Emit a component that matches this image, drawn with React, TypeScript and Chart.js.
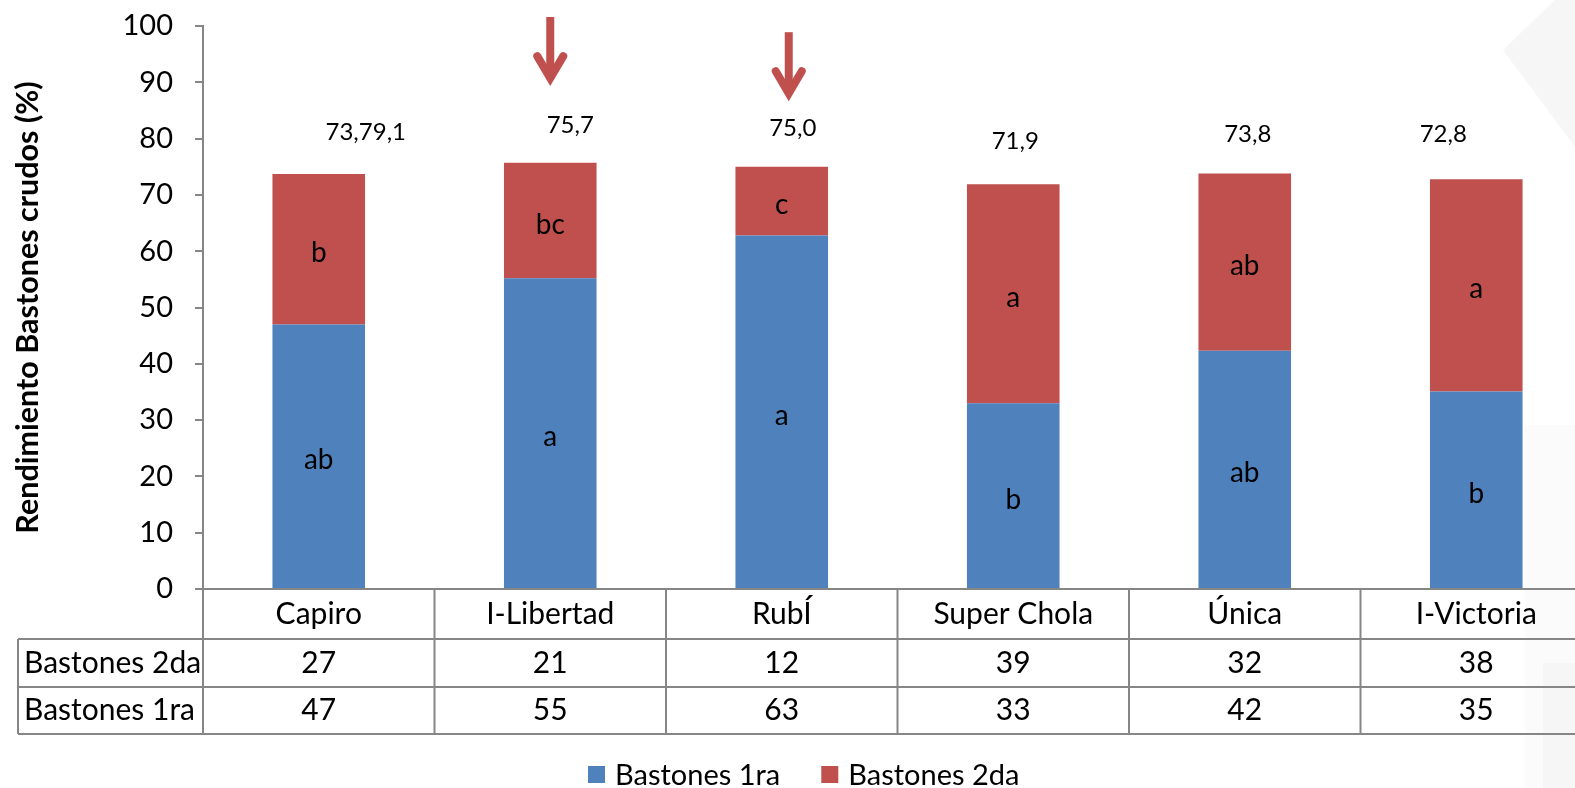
import React, { useEffect, useRef } from "react";
import { Chart, registerables } from "chart.js";

Chart.register(...registerables);

const categories = ["Capiro", "I-Libertad", "RubÍ", "Super Chola", "Única", "I-Victoria"];
const seriesNames = ["Bastones 1ra", "Bastones 2da"];
const bastones1ra = [47.0, 55.2, 62.8, 33.0, 42.3, 35.1];
const bastones2da = [26.7, 20.5, 12.2, 38.9, 31.5, 37.7];
const totalLabels = ["73,79,1", "75,7", "75,0", "71,9", "73,8", "72,8"];
const letters1ra = ["ab", "a", "a", "b", "ab", "b"];
const letters2da = ["b", "bc", "c", "a", "ab", "a"];
const tableRowNames = ["Bastones 2da", "Bastones 1ra"];
const table2da = [27, 21, 12, 39, 32, 38];
const table1ra = [47, 55, 63, 33, 42, 35];
const yMin = 0;
const yMax = 100;
const yStep = 10;
const yTitle = "Rendimiento Bastones crudos (%)";
// arrows: category index, start value, tip value (data units)
const arrowIdx = [1, 2];
const arrowFrom = [101.6, 98.9];
const arrowTo = [89.5, 86.8];

const FONT = "Lato, 'Open Sans', sans-serif";
const BLUE = "#4F81BD";
const RED = "#C0504D";
const GRID = "#868686";

const labelNudgeX = [47, 20, 11, 2, 3, -33];
const labelNudgeY = [0, 4, 4, -1, 3, -3];
const arrowNudgeX = [0, 7];

const customPlugin = {
  id: "custom",
  beforeDraw(chart: any) {
    const ctx = chart.ctx;
    ctx.save();
    ctx.fillStyle = "#ffffff";
    ctx.fillRect(0, 0, chart.width, chart.height);
    // faint decorative shapes at right edge
    ctx.fillStyle = "#f6f6f6";
    ctx.beginPath();
    ctx.moveTo(1503, 50);
    ctx.lineTo(1555, 0);
    ctx.lineTo(1600, 0);
    ctx.lineTo(1600, 160);
    ctx.lineTo(1576, 148);
    ctx.closePath();
    ctx.fill();
    ctx.fillStyle = "#fbfbfb";
    ctx.fillRect(1525, 425, 80, 370);
    ctx.fillStyle = "#f6f6f6";
    ctx.fillRect(1543, 663, 60, 130);
    ctx.restore();
  },
  afterDatasetsDraw(chart: any) {
    const ctx = chart.ctx;
    const y = chart.scales.y;
    const x = chart.scales.x;
    const m0 = chart.getDatasetMeta(0);
    const m1 = chart.getDatasetMeta(1);
    ctx.save();
    ctx.fillStyle = "#000";
    ctx.textAlign = "center";
    ctx.textBaseline = "middle";
    ctx.font = `28px ${FONT}`;
    m0.data.forEach((b: any, i: number) => {
      ctx.fillText(letters1ra[i], b.x, (b.y + b.base) / 2 + 4);
    });
    m1.data.forEach((b: any, i: number) => {
      ctx.fillText(letters2da[i], b.x, (b.y + b.base) / 2 + 4);
    });
    ctx.font = `24px ${FONT}`;
    m1.data.forEach((b: any, i: number) => {
      ctx.fillText(totalLabels[i], b.x + labelNudgeX[i], b.y - 42 + labelNudgeY[i]);
    });
    // arrows
    ctx.strokeStyle = RED;
    ctx.lineWidth = 8;
    arrowIdx.forEach((ci, k) => {
      const ax = x.getPixelForValue(ci) + arrowNudgeX[k];
      const top = y.getPixelForValue(arrowFrom[k]);
      const tip = y.getPixelForValue(arrowTo[k]);
      ctx.lineCap = "butt";
      ctx.beginPath();
      ctx.moveTo(ax, top);
      ctx.lineTo(ax, tip - 6);
      ctx.stroke();
      ctx.lineCap = "round";
      ctx.lineJoin = "miter";
      ctx.beginPath();
      ctx.moveTo(ax - 13, tip - 29);
      ctx.lineTo(ax, tip - 7);
      ctx.lineTo(ax + 13, tip - 29);
      ctx.stroke();
    });
    ctx.restore();
  },
  afterDraw(chart: any) {
    const ctx = chart.ctx;
    const area = chart.chartArea;
    const x = chart.scales.x;
    const W = chart.width;
    const top = area.bottom;
    const rowB = [top + 50, top + 98, top + 145];
    const tableLeft = 18;
    ctx.save();
    ctx.strokeStyle = GRID;
    ctx.lineWidth = 2;
    ctx.beginPath();
    // axis line
    ctx.moveTo(area.left - 1, top);
    ctx.lineTo(W, top);
    // horizontal rows
    rowB.forEach((ry) => {
      ctx.moveTo(tableLeft, ry);
      ctx.lineTo(W, ry);
    });
    // left border of row-name column
    ctx.moveTo(tableLeft, rowB[0]);
    ctx.lineTo(tableLeft, rowB[2]);
    // category boundaries
    for (let i = 0; i < categories.length; i++) {
      const bx = i === 0 ? area.left : (x.getPixelForValue(i - 1) + x.getPixelForValue(i)) / 2;
      ctx.moveTo(bx, top);
      ctx.lineTo(bx, rowB[2]);
    }
    ctx.stroke();

    ctx.fillStyle = "#000";
    ctx.textBaseline = "middle";
    ctx.font = `30px ${FONT}`;
    ctx.textAlign = "center";
    categories.forEach((c, i) => {
      const cx = x.getPixelForValue(i);
      ctx.fillText(c, cx, top + 25);
      ctx.fillText(String(table2da[i]), cx, top + 74);
      ctx.fillText(String(table1ra[i]), cx, top + 121);
    });
    ctx.textAlign = "left";
    ctx.fillText(tableRowNames[0], 24, top + 74);
    ctx.fillText(tableRowNames[1], 24, top + 121);

    // legend
    ctx.font = `29px ${FONT}`;
    ctx.textBaseline = "alphabetic";
    let lx = 588;
    chart.data.datasets.forEach((ds: any) => {
      ctx.fillStyle = ds.backgroundColor;
      ctx.fillRect(lx, 766, 17, 17);
      ctx.fillStyle = "#000";
      ctx.fillText(ds.label, lx + 27, 785);
      lx += 27 + ctx.measureText(ds.label).width + 41;
    });

    // y title
    ctx.font = `bold 30.5px ${FONT}`;
    ctx.textAlign = "center";
    ctx.translate(38, (area.top + area.bottom) / 2);
    ctx.rotate(-Math.PI / 2);
    ctx.fillText(yTitle, 0, 0);
    ctx.restore();
  },
};

export default function App() {
  const ref = useRef<HTMLCanvasElement | null>(null);
  useEffect(() => {
    if (!ref.current) return;
    const chart = new Chart(ref.current, {
      type: "bar",
      data: {
        labels: categories,
        datasets: [
          { label: seriesNames[0], data: bastones1ra, backgroundColor: BLUE, barPercentage: 0.4, categoryPercentage: 1 },
          { label: seriesNames[1], data: bastones2da, backgroundColor: RED, barPercentage: 0.4, categoryPercentage: 1 },
        ],
      },
      options: {
        animation: false,
        responsive: false,
        devicePixelRatio: 1,
        layout: { padding: { left: 0, top: 26, right: 8, bottom: 199 } },
        plugins: { legend: { display: false }, tooltip: { enabled: false } },
        scales: {
          x: { stacked: true, display: false },
          y: {
            stacked: true,
            min: yMin,
            max: yMax,
            ticks: { stepSize: yStep, color: "#000", font: { family: FONT, size: 29 }, padding: 22 },
            grid: { drawOnChartArea: false, drawTicks: true, tickLength: 8, color: GRID, lineWidth: 2 },
            border: { display: true, color: GRID, width: 2 },
            afterFit: (s: any) => {
              s.width = 203;
              s.paddingTop = 0;
              s.paddingBottom = 0;
            },
          },
        },
      },
      plugins: [customPlugin],
    } as any);
    return () => chart.destroy();
  }, []);
  return (
    <div style={{ position: "fixed", left: 0, top: 0, width: 1575, height: 788, overflow: "hidden", background: "#fff" }}>
      <canvas ref={ref} width={1600} height={788} style={{ display: "block" }} />
    </div>
  );
}
